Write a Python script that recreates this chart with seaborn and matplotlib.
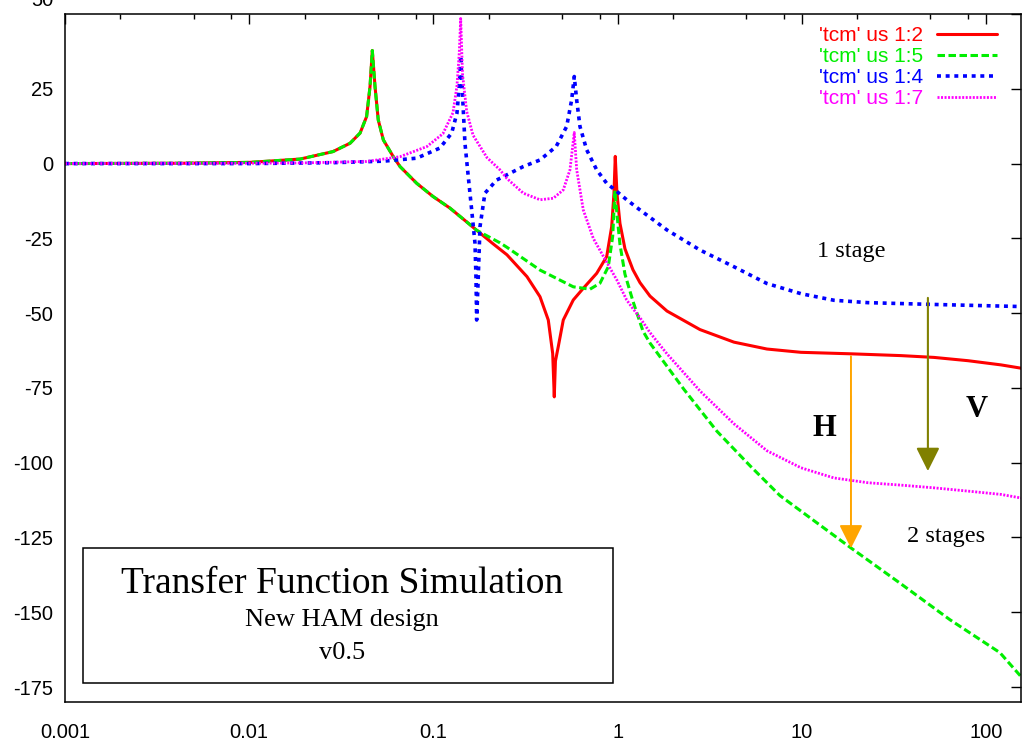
import numpy as np
import pandas as pd
import matplotlib
matplotlib.use("Agg")
import matplotlib.pyplot as plt
import seaborn as sns
from matplotlib.patches import Rectangle
from matplotlib.ticker import FixedLocator, NullFormatter

# ---------------- data ----------------
freq_red = [0.001, 0.0042, 0.0101, 0.0189, 0.0285, 0.0353, 0.0400, 0.0434, 0.0453,
            0.0466, 0.0482, 0.0502, 0.0535, 0.0606, 0.0659, 0.0812, 0.0995, 0.1231,
            0.1516, 0.1718, 0.2107, 0.2509, 0.3222, 0.3791, 0.4206, 0.4444, 0.4533,
            0.4600, 0.4765, 0.5073, 0.5748, 0.6514, 0.7702, 0.8729, 0.9290, 0.9561,
            0.9716, 0.9925, 1.0304, 1.0970, 1.2119, 1.3231, 1.4997, 1.8543, 2.8018,
            4.2844, 6.4712, 9.9005, 18.50, 34.56, 52.20, 79.88, 120.6, 155.0]
db_red = [0.0, 0.1, 0.4, 1.5, 4.0, 6.8, 10.2, 15.7, 25.8,
          37.8, 25.8, 14.6, 7.9, 2.3, -1.0, -6.6, -11.0, -14.9,
          -19.5, -22.3, -26.8, -30.5, -37.8, -44.5, -52.3, -63.5, -78.0,
          -66.0, -61.2, -52.3, -45.6, -41.7, -36.7, -31.1, -21.1, -9.9,
          2.4, -10.0, -20.0, -28.5, -35.5, -39.8, -44.3, -49.3, -55.5,
          -59.7, -62.0, -63.1, -63.6, -64.2, -64.8, -65.9, -67.3, -68.4]

freq_green = [0.001, 0.0042, 0.0101, 0.0189, 0.0285, 0.0353, 0.0400, 0.0434, 0.0453,
              0.0466, 0.0482, 0.0502, 0.0535, 0.0606, 0.0659, 0.0812, 0.0995, 0.1231,
              0.1516, 0.1718, 0.2299, 0.2509, 0.3791, 0.5748, 0.7083, 0.8026, 0.8904,
              0.9406, 0.9680, 0.9925, 1.0304, 1.0970, 1.2119, 1.3737, 1.4997, 2.2935,
              3.4647, 5.2325, 7.6154, 18.50, 34.56, 63.78, 119.1, 155.0]
db_green = [0.0, 0.1, 0.4, 1.5, 4.0, 6.8, 10.2, 15.7, 25.8,
            37.8, 25.8, 14.6, 7.9, 2.3, -1.0, -6.6, -11.0, -14.9,
            -19.5, -22.3, -26.5, -28.0, -35.6, -41.2, -42.0, -40.0, -34.5,
            -24.4, -9.0, -17.0, -27.0, -37.0, -46.0, -56.0, -60.0, -75.5,
            -89.5, -101.0, -111.0, -128.5, -140.5, -152.5, -163.5, -171.5]

freq_blue = [0.001, 0.0101, 0.0285, 0.0535, 0.0812, 0.1086, 0.1257, 0.1343, 0.1382,
             0.1407, 0.1453, 0.1484, 0.1547, 0.1614, 0.1682, 0.1703, 0.1718, 0.1753,
             0.1791, 0.1905, 0.2206, 0.3077, 0.3791, 0.4641, 0.5293, 0.5634, 0.5820,
             0.5997, 0.6250, 0.6796, 0.7702, 0.8729, 0.9680, 1.1205, 1.3231, 1.8543,
             2.8018, 4.2844, 6.4712, 9.9005, 14.953, 22.879, 52.20, 155.0]
db_blue = [0.0, 0.0, 0.3, 0.8, 1.8, 5.2, 10.2, 16.9, 25.8,
           36.0, 18.0, 6.8, -4.4, -15.5, -26.6, -37.8, -52.3, -37.8,
           -21.1, -9.9, -5.5, -1.0, 1.2, 5.7, 12.4, 21.3, 29.1,
           21.3, 12.4, 4.6, -2.1, -6.6, -8.8, -12.1, -15.5, -22.2,
           -28.9, -34.5, -40.1, -43.5, -45.7, -46.5, -47.1, -47.8]

freq_magenta = [0.001, 0.0101, 0.0189, 0.0434, 0.0659, 0.0923, 0.1127, 0.1278, 0.1343,
                0.1382, 0.1407, 0.1439, 0.1516, 0.1641, 0.1954, 0.2299, 0.2509, 0.3077,
                0.3791, 0.4477, 0.5073, 0.5515, 0.5820, 0.5997, 0.6514, 0.7382, 0.8026,
                0.8729, 0.9925, 1.1205, 1.2119, 1.3231, 1.4997, 1.8543, 2.8018, 4.2844,
                6.4712, 9.9005, 14.953, 22.879, 34.56, 52.20, 79.88, 120.6, 155.0]
db_magenta = [0.0, 0.1, 0.2, 0.7, 2.3, 5.7, 10.0, 17.0, 26.0,
              37.0, 48.5, 30.0, 17.5, 9.5, 2.0, -2.1, -5.0, -9.9,
              -12.1, -11.6, -8.8, -2.1, 10.4, -2.0, -15.5, -25.0, -29.0,
              -33.0, -39.0, -45.6, -48.5, -51.5, -56.5, -63.6, -76.0, -87.0,
              -96.0, -101.7, -105.1, -106.7, -107.5, -108.4, -109.5, -110.6, -111.8]

labels = ["'tcm' us 1:2", "'tcm' us 1:5", "'tcm' us 1:4", "'tcm' us 1:7"]
colors = ["#ff0000", "#00ee00", "#0000ff", "#ff00ff"]

xtick_vals = [0.001, 0.01, 0.1, 1, 10, 100]
xtick_labels = ["0.001", "0.01", "0.1", "1", "10", "100"]
ytick_vals = [-175, -150, -125, -100, -75, -50, -25, 0, 25, 50]

# ---------------- style ----------------
sns.set_theme(style="white")
plt.rcParams['font.family'] = ['Liberation Sans', 'DejaVu Sans']
plt.rcParams.update({
    'axes.edgecolor': 'black', 'text.color': 'black',
    'xtick.color': 'black', 'ytick.color': 'black',
    'axes.linewidth': 1.1, 'axes.facecolor': 'white', 'figure.facecolor': 'white',
})
serif = ['Liberation Serif', 'DejaVu Serif']

fig = plt.figure(figsize=(10.25, 7.44), dpi=100)
ax = fig.add_axes([65 / 1025, 42 / 744, 956 / 1025, 688 / 744])
ax.set_xscale('log')

series = [
    (labels[0], freq_red, db_red, colors[0], '-', 2.2),
    (labels[1], freq_green, db_green, colors[1], (0, (2.45, 1.15)), 2.2),
    (labels[2], freq_blue, db_blue, colors[2], (0, (1.1, 1.3)), 2.6),
    (labels[3], freq_magenta, db_magenta, colors[3], (0, (0.72, 0.55)), 2.0),
]
for lab, f, d, c, ls, lw in series:
    df = pd.DataFrame({'freq': f, 'db': d})
    sns.lineplot(data=df, x='freq', y='db', ax=ax, color=c, linestyle=ls, lw=lw,
                 label=lab, estimator=None, sort=False)

ax.set_xlabel('')
ax.set_ylabel('')
ax.set_xlim(0.001, 155)
ax.set_ylim(-180, 50)

ax.xaxis.set_major_locator(FixedLocator(xtick_vals))
ax.set_xticklabels(xtick_labels)
minor = [k * 10.0 ** e for e in range(-3, 3) for k in (2, 5, 8) if k * 10.0 ** e < 155]
ax.xaxis.set_minor_locator(FixedLocator(minor))
ax.xaxis.set_minor_formatter(NullFormatter())
ax.set_yticks(ytick_vals)
ax.set_yticklabels([str(v) if v != 50 else '' for v in ytick_vals])
ax.tick_params(which='both', direction='in', top=True, right=True, width=1.0)
ax.tick_params(which='major', length=7.2)
ax.tick_params(which='minor', length=3.4)
ax.tick_params(axis='x', which='major', pad=15, labelsize=14.5)
ax.tick_params(axis='y', which='major', pad=8.6, labelsize=14.5)
ax.tick_params(axis='y', which='minor', left=False, right=False)

# top "50" label (shifted upward as in the reference)
ax.annotate('50', xy=(0, 50), xycoords=('axes fraction', 'data'), xytext=(-12, 13),
            textcoords='offset pixels', ha='right', va='center', fontsize=14.5,
            annotation_clip=False)

for sp in ax.spines.values():
    sp.set_linewidth(1.1)
    sp.set_color('black')

leg = ax.legend(loc='upper right', bbox_to_anchor=(997 / 1025, 1 - 26 / 744),
                bbox_transform=fig.transFigure, frameon=False, markerfirst=False,
                labelcolor='linecolor', fontsize=15, handlelength=2.88,
                handletextpad=0.67, labelspacing=0.1, borderpad=0, borderaxespad=0)

# ---------------- annotations ----------------
ax.text(18.6, -31.2, '1 stage', family=serif, fontsize=17.5, ha='center', va='baseline')
ax.text(60.6, -126.4, '2 stages', family=serif, fontsize=17.5, ha='center', va='baseline')
ax.text(13.2, -91.1, 'H', family=serif, fontsize=22, fontweight='bold', ha='center', va='baseline')
ax.text(89.3, -84.7, 'V', family=serif, fontsize=22, fontweight='bold', ha='center', va='baseline')

ax.annotate('', xy=(48.4, -102.8), xytext=(48.4, -44.9),
            arrowprops=dict(arrowstyle='-|>,head_length=0.4,head_width=0.2', mutation_scale=36,
                            color='#808000', lw=1.5, shrinkA=0, shrinkB=0))
ax.annotate('', xy=(18.5, -128.6), xytext=(18.5, -64.4),
            arrowprops=dict(arrowstyle='-|>,head_length=0.4,head_width=0.2', mutation_scale=36,
                            color='#ffa500', lw=1.4, shrinkA=0, shrinkB=0))
ax.plot([18.5, 18.5], [-77.4, -96.8], color='white', lw=2.4, solid_capstyle='butt')
ax.plot([18.5, 18.5], [-77.4, -96.8], color='#ffdcaa', lw=0.8, solid_capstyle='butt')

# title box
box = Rectangle((18 / 956, 19 / 688), 530 / 956, 135 / 688, transform=ax.transAxes,
                facecolor='white', edgecolor='black', lw=1.1, zorder=5)
ax.add_patch(box)
bx = 277 / 956
ax.text(bx, (702 - 593) / 688, 'Transfer Function Simulation', transform=ax.transAxes,
        family=serif, fontsize=27, ha='center', va='baseline', zorder=6)
ax.text(bx, (702 - 626) / 688, 'New HAM design', transform=ax.transAxes,
        family=serif, fontsize=19, ha='center', va='baseline', zorder=6)
ax.text(bx, (702 - 659) / 688, 'v0.5', transform=ax.transAxes,
        family=serif, fontsize=19, ha='center', va='baseline', zorder=6)

fig.savefig('out.png', dpi=100)
